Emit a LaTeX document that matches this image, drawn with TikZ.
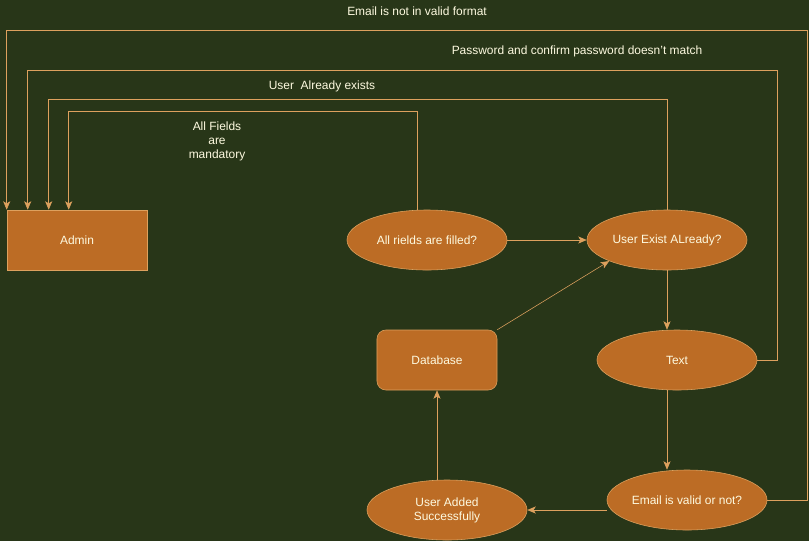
\documentclass[tikz,border=0pt]{standalone}
\usepackage{fontspec}
\setmainfont{Liberation Sans}
\usepackage{tikz}
\usetikzlibrary{shapes.geometric,arrows.meta}
\definecolor{forest}{HTML}{283618}
\definecolor{rust}{HTML}{BC6C25}
\definecolor{sand}{HTML}{DDA15E}
\definecolor{cream}{HTML}{FEFAE0}

\begin{document}
\begin{tikzpicture}[x=0.025cm, y=-0.025cm,
  every node/.style={font=\fontsize{8.5}{10}\selectfont, text=cream},
  blob/.style={ellipse, draw=sand, fill=rust, minimum width=4cm, minimum height=1.5cm, inner sep=0pt, align=center},
  box/.style={rectangle, draw=sand, fill=rust, minimum width=3.5cm, minimum height=1.5cm, inner sep=0pt},
  link/.style={draw=sand, -{Stealth[length=6pt, width=5pt, inset=1.5pt]}}
]

% Background
\useasboundingbox[fill=forest] (0,0) rectangle (809,541);

% Nodes
\node[box] (admin) at (77,240) {Admin};
\node[blob] (fields) at (427,240) {All rields are filled?};
\node[blob] (exist) at (667,240) {User Exist ALready?};
\node[box, rounded corners=0.22cm, minimum width=3cm] (db) at (437,360) {Database};
\node[blob] (text) at (677,360) {Text};
\node[blob] (email) at (687,500) {Email is valid or not?};
\node[blob] (added) at (447,510) {User Added\\Successfully};

% Flow
\draw[link] (fields) -- (exist);
\draw[link] (db.north east) -- (exist.-160);
\draw[link] (exist.south) -- (text.north -| exist.south);
\draw[link] (text.south -| exist.south) -- (email.north -| exist.south);
\draw[link] (email.west |- 0,510) -- (added.east);
\draw[link] ([shift={(-10,0)}]added.north) -- (db.south);

% Loops back to admin
\draw[link] ([shift={(-10,0)}]fields.north) -- ++(0,-98) -| ([shift={(62,0)}]admin.north west);
\draw[link] (exist.north) -- ++(0,-110) -| ([shift={(42,0)}]admin.north west);
\draw[link] (text.east) -| (777,70) -| ([shift={(21,0)}]admin.north west);
\draw[link] (email.east) -| (807,30) -| (admin.north west);

% Labels
\node at (417,11) {Email is not in valid format};
\node at (577,51) {Password and confirm password doesn't match};
\node at (322,86) {User\ \ Already exists};
\node[align=center] at (217,141) {All Fields\\are\\mandatory};

\end{tikzpicture}
\end{document}
